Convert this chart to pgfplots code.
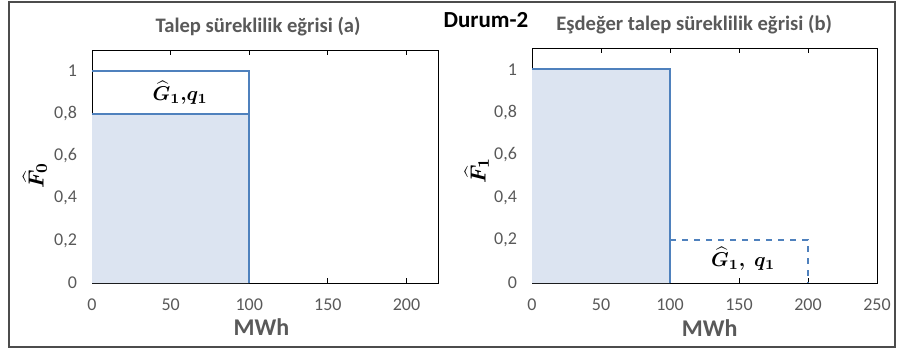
\documentclass[border=0pt]{standalone}
\usepackage{pgfplots}
\pgfplotsset{compat=1.18}
\usepackage{bm}
\usepackage{fontspec}
\setmainfont{Carlito}
\definecolor{lblue}{HTML}{4F81BD}
\definecolor{fillc}{HTML}{DCE4F1}
\definecolor{tgray}{HTML}{595959}
\begin{document}
\begin{tikzpicture}
\useasboundingbox (0pt,0pt) rectangle (448.5pt,174.5pt);
\draw[color=black!70, line width=0.6pt] (4.5pt,1pt) rectangle (447.5pt,173.5pt);
\pgfplotsset{
  mystyle/.style={
    scale only axis,
    axis line style={black, line width=0.5pt},
    tick align=inside,
    major tick length=2.5pt,
    xtick style={black, line width=0.5pt},
    ytick style={draw=none},
    ymin=0, ymax=1.1,
    ytick={0,0.2,0.4,0.6,0.8,1},
    /pgf/number format/use comma,
    /pgf/number format/assume math mode=true,
    tick label style={font=\fontsize{9}{10}\selectfont, text=tgray},
    yticklabel style={xshift=-4pt},
    xticklabel style={yshift=-4.5pt},
    xlabel={\textbf{MWh}},
    xlabel style={font=\fontsize{12}{13}\selectfont, text=tgray, at={(axis description cs:0.49,-0.19)}, anchor=center},
    ylabel style={font=\fontsize{11}{12}\selectfont, rotate=0, anchor=center},
    title style={font=\fontsize{10.3}{12}\selectfont, text=tgray, at={(axis description cs:0.48,1.1)}, anchor=center, yshift=-6pt},
    clip=false,
  }
}
\begin{axis}[mystyle, at={(46pt,33pt)}, anchor=south west, width=173pt, height=116.5pt,
  xmin=0, xmax=220, xtick={0,50,100,150,200},
  ylabel={$\bm{\widehat{F}_0}$},
  ylabel style={at={(axis description cs:-0.165,0.46)}},
  title={\textbf{Talep süreklilik eğrisi (a)}}]
\addplot[fill=fillc, draw=none] coordinates {(0,0) (0,0.8) (100,0.8) (100,0)} \closedcycle;
\addplot[lblue, line width=1pt] coordinates {(0,1) (100,1) (100,0)};
\addplot[lblue, line width=1pt] coordinates {(0,0.8) (100,0.8)};
\node[font=\fontsize{10}{11}\selectfont] at (axis cs:56,0.9) {$\bm{\widehat{G}_1{,}q_1}$};
\end{axis}
\begin{axis}[mystyle, at={(266pt,33pt)}, anchor=south west, width=172.5pt, height=117.5pt,
  xmin=0, xmax=250, xtick={0,50,100,150,200,250},
  ylabel={$\bm{\widehat{F}_1}$},
  ylabel style={at={(axis description cs:-0.16,0.48)}},
  xlabel style={at={(axis description cs:0.515,-0.19)}},
  title={\textbf{Eşdeğer talep süreklilik eğrisi (b)}},
  title style={at={(axis description cs:0.47,1.1)}}]
\addplot[fill=fillc, draw=none] coordinates {(0,0) (0,1) (100,1) (100,0)} \closedcycle;
\addplot[lblue, line width=1pt] coordinates {(0,1) (100,1) (100,0)};
\addplot[lblue, line width=1pt, dashed] coordinates {(100,0.2) (200,0.2) (200,0)};
\node[font=\fontsize{10}{11}\selectfont] at (axis cs:153,0.115) {$\bm{\widehat{G}_1,\;q_1}$};
\end{axis}
\node[font=\fontsize{11.5}{13}\selectfont\bfseries] at (243pt,164.5pt) {Durum-2};
\end{tikzpicture}
\end{document}
